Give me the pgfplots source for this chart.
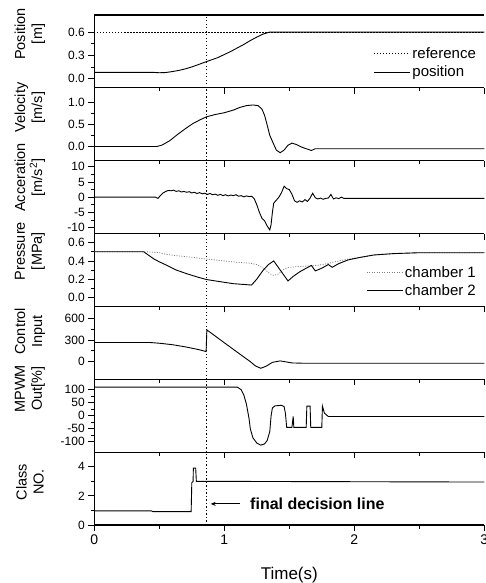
\documentclass[border=0pt]{standalone}
\usepackage{pgfplots}
\pgfplotsset{compat=1.18}
\usepackage{fontspec}
\setmainfont{Liberation Sans}
\usetikzlibrary{arrows.meta}
\begin{document}
\begin{tikzpicture}
\pgfplotsset{
  panel/.style n args={2}{
    at={(0pt,{-#1*72.86pt})}, anchor=north west,
    scale only axis, width=390pt, height=72.86pt,
    xmin=0, xmax=3, xtick={0,1,2,3}, minor x tick num=1,
    xtick pos=left, ytick pos=left, tick align=outside,
    axis y line*=left,
    major tick length=6pt, minor tick length=3.5pt,
    every tick/.style={black, line width=0.8pt},
    axis line style={line width=1.2pt},
    minor y tick num=1,
    xticklabels={},
    /pgf/number format/assume math mode=true,
    yticklabel={\pgfmathprintnumber{\tick}},
    yticklabel style={font=\fontsize{12}{14}\selectfont},
    every axis y label/.style={at={(axis description cs:-0.165,#2)}, rotate=90, anchor=center, align=center, font=\fontsize{14.5}{17}\selectfont},
    legend style={draw=none, fill=none, font=\fontsize{15}{17}\selectfont, inner sep=0pt, row sep=2pt, nodes={inner sep=2pt}},
    legend cell align=left,
    legend image code/.code={\draw[##1] (0pt,0pt) -- (36pt,0pt);},
  },
  curve/.style={black, line width=0.9pt},
  decision/.style={black, line width=1.3pt, dash pattern=on 1.3pt off 2.2pt, forget plot},
}
% Panel 1: Position
\begin{axis}[panel={0}{0.74}, ymin=-0.12, ymax=0.82, ytick={0,0.3,0.6},
  y tick label style={/pgf/number format/.cd, fixed, fixed zerofill, precision=1},
  ylabel={Position\\{[m]}},
  legend style={at={(axis description cs:0.984,0.343)}, anchor=east}]
\addplot[black, line width=0.8pt, dash pattern=on 1.2pt off 1.8pt] coordinates {(0,0.6)(3,0.6)};
\addlegendentry{reference}
\addplot[curve] coordinates {(0,0.08)(0.45,0.08)(0.5,0.075)(0.55,0.078)(0.6,0.09)(0.65,0.105)(0.7,0.125)(0.75,0.15)(0.8,0.18)(0.865,0.22)(0.95,0.27)(1.0,0.31)(1.05,0.35)(1.1,0.395)(1.15,0.44)(1.2,0.49)(1.25,0.535)(1.3,0.575)(1.35,0.6)(3,0.6)};
\addlegendentry{position}
\addplot[decision] coordinates {(0.865,-0.12)(0.865,0.82)};
\end{axis}
% Panel 2: Velocity
\begin{axis}[panel={1}{0.73}, ymin=-0.32, ymax=1.32, ytick={0,0.5,1},
  y tick label style={/pgf/number format/.cd, fixed, fixed zerofill, precision=1},
  ylabel={Velocity\\{[m/s]}}]
\addplot[curve] coordinates {(0,0)(0.48,0)(0.52,0.03)(0.58,0.13)(0.64,0.27)(0.7,0.4)(0.76,0.52)(0.82,0.61)(0.865,0.67)(0.93,0.72)(1.0,0.76)(1.07,0.82)(1.12,0.88)(1.17,0.92)(1.22,0.935)(1.26,0.92)(1.29,0.84)(1.31,0.7)(1.33,0.48)(1.35,0.25)(1.38,0.05)(1.4,-0.08)(1.43,-0.14)(1.46,-0.08)(1.49,0.03)(1.52,0.075)(1.55,0.05)(1.6,-0.02)(1.65,-0.07)(1.67,-0.09)(1.7,-0.05)(3,-0.05)};
\addplot[decision] coordinates {(0.865,-0.32)(0.865,1.32)};
\end{axis}
% Panel 3: Acceleration
\begin{axis}[panel={2}{0.77}, ymin=-12, ymax=12, ytick={-10,-5,0,5,10},
  ylabel={Acceration\\{[m/s\textsuperscript{2}]}}]
\addplot[curve] coordinates {(0,0)(0.47,0)(0.49,-0.4)(0.51,0.6)(0.53,1.4)(0.55,1.9)(0.57,2.2)(0.59,2.1)(0.61,2.3)(0.63,1.9)(0.65,2.1)(0.67,1.7)(0.69,1.9)(0.71,1.6)(0.73,1.8)(0.75,1.4)(0.77,1.6)(0.79,1.2)(0.81,1.5)(0.83,1.1)(0.85,1.3)(0.87,0.9)(0.89,1.2)(0.91,0.8)(0.93,1.0)(0.95,0.6)(0.97,0.9)(0.99,0.5)(1.01,0.8)(1.03,0.4)(1.05,0.7)(1.07,0.5)(1.09,0.8)(1.11,0.3)(1.13,0.5)(1.15,0.1)(1.17,0.4)(1.19,0.2)(1.21,0.3)(1.23,-0.5)(1.25,-2.5)(1.27,-5)(1.29,-7)(1.31,-7.8)(1.33,-9.5)(1.35,-10.8)(1.36,-9)(1.37,-5)(1.38,-2)(1.40,-1)(1.42,0)(1.44,1.5)(1.46,3.6)(1.48,2.8)(1.50,2.5)(1.52,1.0)(1.54,-1.2)(1.56,-1.7)(1.58,-1.2)(1.60,-1.6)(1.62,-0.8)(1.64,-1.4)(1.66,-0.3)(1.68,1.3)(1.70,-0.2)(1.72,-0.6)(1.74,-0.3)(1.76,-0.7)(1.78,-0.4)(1.80,-0.3)(1.82,0.9)(1.84,-0.6)(1.86,-0.2)(1.88,-0.5)(1.90,0)(1.92,-0.4)(3,-0.4)};
\addplot[decision] coordinates {(0.865,-12)(0.865,12)};
\end{axis}
% Panel 4: Pressure
\begin{axis}[panel={3}{0.76}, ymin=-0.1, ymax=0.7, ytick={0,0.2,0.4,0.6},
  y tick label style={/pgf/number format/.cd, fixed, fixed zerofill, precision=1},
  ylabel={Pressure\\{[MPa]}},
  legend style={at={(axis description cs:0.984,0.34)}, anchor=east}]
\addplot[gray, line width=0.8pt, dash pattern=on 1pt off 1.5pt] coordinates {(0,0.5)(0.4,0.5)(0.5,0.49)(0.56,0.47)(0.65,0.455)(0.75,0.44)(0.865,0.42)(1.0,0.4)(1.1,0.385)(1.2,0.375)(1.25,0.36)(1.3,0.32)(1.35,0.26)(1.38,0.24)(1.42,0.26)(1.46,0.31)(1.5,0.33)(1.6,0.34)(1.7,0.35)(1.76,0.36)(1.85,0.39)(1.95,0.42)(2.05,0.44)(2.15,0.465)(2.3,0.48)(2.5,0.49)(3,0.49)};
\addlegendentry{chamber 1}
\addplot[curve] coordinates {(0,0.5)(0.38,0.5)(0.42,0.46)(0.46,0.42)(0.5,0.39)(0.56,0.35)(0.63,0.3)(0.71,0.26)(0.8,0.22)(0.865,0.195)(1.0,0.165)(1.07,0.15)(1.21,0.135)(1.25,0.2)(1.3,0.3)(1.34,0.36)(1.38,0.40)(1.41,0.34)(1.45,0.26)(1.49,0.18)(1.53,0.23)(1.58,0.28)(1.63,0.32)(1.67,0.35)(1.70,0.29)(1.75,0.32)(1.80,0.36)(1.83,0.33)(1.88,0.37)(1.95,0.41)(2.05,0.44)(2.15,0.465)(2.3,0.48)(2.5,0.49)(3,0.49)};
\addlegendentry{chamber 2}
\addplot[decision] coordinates {(0.865,-0.1)(0.865,0.7)};
\end{axis}
% Panel 5: Control input
\begin{axis}[panel={4}{0.66}, ymin=-245, ymax=765, ytick={0,300,600},
  ylabel={Control\\Input}]
\addplot[curve] coordinates {(0,265)(0.43,265)(0.5,255)(0.6,235)(0.7,205)(0.8,168)(0.86,140)(0.866,440)(1.0,262)(1.1,130)(1.2,0)(1.24,-60)(1.28,-92)(1.32,-65)(1.37,-10)(1.43,10)(1.48,-5)(1.52,-18)(1.6,-22)(3,-22)};
\addplot[decision] coordinates {(0.865,-245)(0.865,765)};
\end{axis}
% Panel 6: MPWM
\begin{axis}[panel={5}{0.87}, ymin=-140, ymax=140, ytick={-100,-50,0,50,100},
  ylabel={MPWM\\{Out[\%]}}]
\addplot[curve] coordinates {(0,110)(1.10,110)(1.13,100)(1.15,80)(1.17,45)(1.19,-10)(1.20,-50)(1.22,-85)(1.25,-105)(1.28,-113)(1.31,-108)(1.33,-95)(1.35,-60)(1.36,0)(1.37,30)(1.39,38)(1.44,40)(1.46,35)(1.47,10)(1.48,-45)(1.52,-45)(1.53,-3)(1.535,-45)(1.63,-45)(1.635,37)(1.66,37)(1.665,-45)(1.75,-45)(1.755,37)(1.77,10)(1.80,-3)(3,-3)};
\addplot[decision] coordinates {(0.865,-140)(0.865,140)};
\end{axis}
% Panel 7: Class
\begin{axis}[panel={6}{0.59}, ymin=0, ymax=5, ytick={0,2,4},
  ylabel={Class\\NO.},
  xticklabels={0,1,2,3},
  xticklabel style={font=\fontsize{14}{16}\selectfont},
  xlabel={Time(s)},
  xlabel style={at={(axis description cs:0.5,-0.686)}, anchor=center, font=\fontsize{17}{19}\selectfont}]
\addplot[curve] coordinates {(0,0.97)(0.44,0.97)(0.45,0.92)(0.745,0.92)(0.75,2.9)(0.76,3)(0.762,3.9)(0.78,3.9)(0.785,3)(3,2.95)};
\addplot[decision] coordinates {(0.865,0)(0.865,5)};
\draw[-{Stealth[length=5pt,width=4pt]}, line width=0.9pt] (axis cs:1.12,1.45) -- (axis cs:0.895,1.45);
\node[anchor=west, inner sep=0pt, font=\bfseries\fontsize{16}{18}\selectfont] at (axis cs:1.198,1.45) {final decision line};
\end{axis}
\pgfresetboundingbox
\useasboundingbox (-94.3pt,15pt) rectangle (390.7pt,-568pt);
\end{tikzpicture}
\end{document}
